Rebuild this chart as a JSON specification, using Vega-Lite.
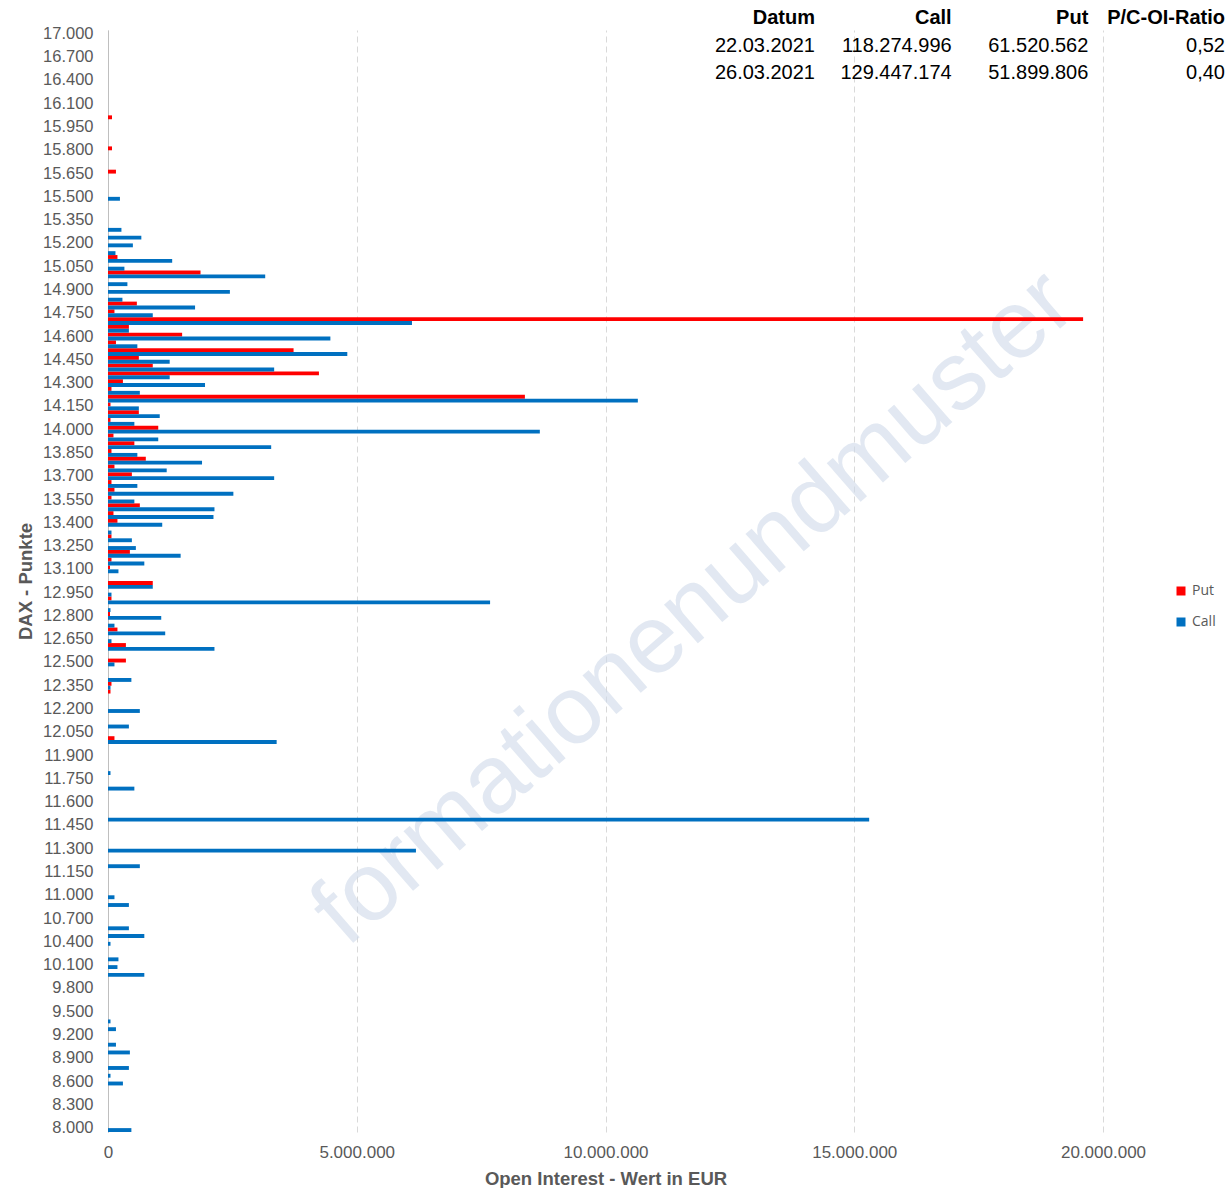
{
  "$schema": "https://vega.github.io/schema/vega-lite/v6.json",
  "width": 995,
  "height": 1102,
  "padding": {"left": 16, "top": 8, "right": 0, "bottom": 0},
  "background": "white",
  "config": {
    "font": "Liberation Sans",
    "view": {"stroke": null},
    "locale": {"number": {"decimal": ",", "thousands": ".", "grouping": [3], "currency": ["", " €"]}}
  },
  "datasets": {
    "oi": [
      {"s": 16000, "t": "Put", "v": 80000},
      {"s": 15800, "t": "Put", "v": 80000},
      {"s": 15650, "t": "Put", "v": 160000},
      {"s": 15100, "t": "Put", "v": 190000},
      {"s": 15000, "t": "Put", "v": 1860000},
      {"s": 14800, "t": "Put", "v": 580000},
      {"s": 14750, "t": "Put", "v": 130000},
      {"s": 14700, "t": "Put", "v": 19600000},
      {"s": 14650, "t": "Put", "v": 420000},
      {"s": 14600, "t": "Put", "v": 1490000},
      {"s": 14550, "t": "Put", "v": 160000},
      {"s": 14500, "t": "Put", "v": 3730000},
      {"s": 14450, "t": "Put", "v": 620000},
      {"s": 14400, "t": "Put", "v": 900000},
      {"s": 14350, "t": "Put", "v": 4240000},
      {"s": 14300, "t": "Put", "v": 300000},
      {"s": 14250, "t": "Put", "v": 70000},
      {"s": 14200, "t": "Put", "v": 8380000},
      {"s": 14150, "t": "Put", "v": 50000},
      {"s": 14100, "t": "Put", "v": 620000},
      {"s": 14050, "t": "Put", "v": 50000},
      {"s": 14000, "t": "Put", "v": 1010000},
      {"s": 13950, "t": "Put", "v": 110000},
      {"s": 13900, "t": "Put", "v": 530000},
      {"s": 13850, "t": "Put", "v": 70000},
      {"s": 13800, "t": "Put", "v": 760000},
      {"s": 13750, "t": "Put", "v": 130000},
      {"s": 13700, "t": "Put", "v": 480000},
      {"s": 13650, "t": "Put", "v": 70000},
      {"s": 13600, "t": "Put", "v": 130000},
      {"s": 13550, "t": "Put", "v": 70000},
      {"s": 13500, "t": "Put", "v": 640000},
      {"s": 13450, "t": "Put", "v": 110000},
      {"s": 13400, "t": "Put", "v": 190000},
      {"s": 13300, "t": "Put", "v": 70000},
      {"s": 13200, "t": "Put", "v": 440000},
      {"s": 13150, "t": "Put", "v": 70000},
      {"s": 13100, "t": "Put", "v": 40000},
      {"s": 13000, "t": "Put", "v": 900000},
      {"s": 12900, "t": "Put", "v": 70000},
      {"s": 12800, "t": "Put", "v": 40000},
      {"s": 12700, "t": "Put", "v": 190000},
      {"s": 12600, "t": "Put", "v": 360000},
      {"s": 12500, "t": "Put", "v": 360000},
      {"s": 12350, "t": "Put", "v": 70000},
      {"s": 12300, "t": "Put", "v": 50000},
      {"s": 12000, "t": "Put", "v": 130000},
      {"s": 15500, "t": "Call", "v": 240000},
      {"s": 15300, "t": "Call", "v": 270000},
      {"s": 15250, "t": "Call", "v": 670000},
      {"s": 15200, "t": "Call", "v": 500000},
      {"s": 15150, "t": "Call", "v": 150000},
      {"s": 15100, "t": "Call", "v": 1290000},
      {"s": 15050, "t": "Call", "v": 330000},
      {"s": 15000, "t": "Call", "v": 3160000},
      {"s": 14950, "t": "Call", "v": 390000},
      {"s": 14900, "t": "Call", "v": 2450000},
      {"s": 14850, "t": "Call", "v": 290000},
      {"s": 14800, "t": "Call", "v": 1750000},
      {"s": 14750, "t": "Call", "v": 900000},
      {"s": 14700, "t": "Call", "v": 6110000},
      {"s": 14650, "t": "Call", "v": 420000},
      {"s": 14600, "t": "Call", "v": 4470000},
      {"s": 14550, "t": "Call", "v": 590000},
      {"s": 14500, "t": "Call", "v": 4810000},
      {"s": 14450, "t": "Call", "v": 1240000},
      {"s": 14400, "t": "Call", "v": 3340000},
      {"s": 14350, "t": "Call", "v": 1240000},
      {"s": 14300, "t": "Call", "v": 1950000},
      {"s": 14250, "t": "Call", "v": 640000},
      {"s": 14200, "t": "Call", "v": 10650000},
      {"s": 14150, "t": "Call", "v": 620000},
      {"s": 14100, "t": "Call", "v": 1040000},
      {"s": 14050, "t": "Call", "v": 530000},
      {"s": 14000, "t": "Call", "v": 8680000},
      {"s": 13950, "t": "Call", "v": 1010000},
      {"s": 13900, "t": "Call", "v": 3280000},
      {"s": 13850, "t": "Call", "v": 590000},
      {"s": 13800, "t": "Call", "v": 1890000},
      {"s": 13750, "t": "Call", "v": 1180000},
      {"s": 13700, "t": "Call", "v": 3340000},
      {"s": 13650, "t": "Call", "v": 590000},
      {"s": 13600, "t": "Call", "v": 2520000},
      {"s": 13550, "t": "Call", "v": 530000},
      {"s": 13500, "t": "Call", "v": 2140000},
      {"s": 13450, "t": "Call", "v": 2120000},
      {"s": 13400, "t": "Call", "v": 1090000},
      {"s": 13350, "t": "Call", "v": 70000},
      {"s": 13300, "t": "Call", "v": 480000},
      {"s": 13250, "t": "Call", "v": 560000},
      {"s": 13200, "t": "Call", "v": 1460000},
      {"s": 13150, "t": "Call", "v": 730000},
      {"s": 13100, "t": "Call", "v": 210000},
      {"s": 13000, "t": "Call", "v": 900000},
      {"s": 12950, "t": "Call", "v": 70000},
      {"s": 12900, "t": "Call", "v": 7680000},
      {"s": 12850, "t": "Call", "v": 50000},
      {"s": 12800, "t": "Call", "v": 1070000},
      {"s": 12750, "t": "Call", "v": 130000},
      {"s": 12700, "t": "Call", "v": 1150000},
      {"s": 12650, "t": "Call", "v": 70000},
      {"s": 12600, "t": "Call", "v": 2140000},
      {"s": 12500, "t": "Call", "v": 130000},
      {"s": 12400, "t": "Call", "v": 470000},
      {"s": 12350, "t": "Call", "v": 50000},
      {"s": 12200, "t": "Call", "v": 640000},
      {"s": 12100, "t": "Call", "v": 420000},
      {"s": 12000, "t": "Call", "v": 3390000},
      {"s": 11800, "t": "Call", "v": 50000},
      {"s": 11700, "t": "Call", "v": 530000},
      {"s": 11500, "t": "Call", "v": 15300000},
      {"s": 11300, "t": "Call", "v": 6190000},
      {"s": 11200, "t": "Call", "v": 640000},
      {"s": 11000, "t": "Call", "v": 130000},
      {"s": 10900, "t": "Call", "v": 420000},
      {"s": 10600, "t": "Call", "v": 420000},
      {"s": 10500, "t": "Call", "v": 730000},
      {"s": 10400, "t": "Call", "v": 50000},
      {"s": 10200, "t": "Call", "v": 210000},
      {"s": 10100, "t": "Call", "v": 190000},
      {"s": 10000, "t": "Call", "v": 730000},
      {"s": 9400, "t": "Call", "v": 50000},
      {"s": 9300, "t": "Call", "v": 160000},
      {"s": 9100, "t": "Call", "v": 160000},
      {"s": 9000, "t": "Call", "v": 440000},
      {"s": 8800, "t": "Call", "v": 420000},
      {"s": 8700, "t": "Call", "v": 50000},
      {"s": 8600, "t": "Call", "v": 300000},
      {"s": 8000, "t": "Call", "v": 470000}
    ],
    "wm": [{"label": "formationenundmuster"}],
    "head": [
      {"col": "Datum", "row": "h", "label": "Datum"},
      {"col": "Call", "row": "h", "label": "Call"},
      {"col": "Put", "row": "h", "label": "Put"},
      {"col": "Ratio", "row": "h", "label": "P/C-OI-Ratio"}
    ],
    "body": [
      {"col": "Datum", "row": "r1", "label": "22.03.2021"},
      {"col": "Call", "row": "r1", "label": "118.274.996"},
      {"col": "Put", "row": "r1", "label": "61.520.562"},
      {"col": "Ratio", "row": "r1", "label": "0,52"},
      {"col": "Datum", "row": "r2", "label": "26.03.2021"},
      {"col": "Call", "row": "r2", "label": "129.447.174"},
      {"col": "Put", "row": "r2", "label": "51.899.806"},
      {"col": "Ratio", "row": "r2", "label": "0,40"}
    ]
  },
  "layer": [
    {
      "layer": [
        {
          "data": {"name": "wm"},
          "mark": {"type": "text", "angle": 319, "fontSize": 97, "fill": "#CFDAEA", "opacity": 0.6, "align": "center", "baseline": "middle"},
          "encoding": {
            "x": {"datum": 11780000, "type": "quantitative"},
            "y": {"datum": 12850, "type": "ordinal"},
            "text": {"field": "label"}
          }
        },
        {
          "data": {"name": "oi"},
          "mark": {"type": "bar"},
          "encoding": {
            "y": {
              "field": "s", "type": "ordinal",
              "scale": {
                "paddingInner": 0, "paddingOuter": 0,
                "domain": [17000,16900,16800,16700,16600,16500,16400,16300,16200,16100,16050,16000,15950,15900,15850,15800,15750,15700,15650,15600,15550,15500,15450,15400,15350,15300,15250,15200,15150,15100,15050,15000,14950,14900,14850,14800,14750,14700,14650,14600,14550,14500,14450,14400,14350,14300,14250,14200,14150,14100,14050,14000,13950,13900,13850,13800,13750,13700,13650,13600,13550,13500,13450,13400,13350,13300,13250,13200,13150,13100,13050,13000,12950,12900,12850,12800,12750,12700,12650,12600,12550,12500,12450,12400,12350,12300,12250,12200,12150,12100,12050,12000,11950,11900,11850,11800,11750,11700,11650,11600,11550,11500,11450,11400,11350,11300,11250,11200,11150,11100,11050,11000,10900,10800,10700,10600,10500,10400,10300,10200,10100,10000,9900,9800,9700,9600,9500,9400,9300,9200,9100,9000,8900,8800,8700,8600,8500,8400,8300,8200,8100,8000]
              },
              "axis": {
                "title": "DAX - Punkte",
                "titleFontSize": 18.5, "titleFontWeight": "bold", "titleColor": "#595959", "titlePadding": 7,
                "labelFontSize": 16.5, "labelColor": "#595959", "labelPadding": 15,
                "ticks": false, "domain": true, "domainColor": "#BFBFBF", "domainWidth": 1,
                "labelExpr": "replace(replace(format(datum.value, ','), ',', '.'), ',', '.')",
                "values": [17000,16700,16400,16100,15950,15800,15650,15500,15350,15200,15050,14900,14750,14600,14450,14300,14150,14000,13850,13700,13550,13400,13250,13100,12950,12800,12650,12500,12350,12200,12050,11900,11750,11600,11450,11300,11150,11000,10700,10400,10100,9800,9500,9200,8900,8600,8300,8000]
              }
            },
            "yOffset": {"field": "t", "type": "nominal", "scale": {"domain": ["Put", "Call"], "paddingInner": 0, "paddingOuter": 0}},
            "x": {
              "field": "v", "type": "quantitative",
              "scale": {"domain": [0, 20000000], "nice": false},
              "axis": {
                "title": "Open Interest - Wert in EUR",
                "titleFontSize": 18.5, "titleFontWeight": "bold", "titleColor": "#595959", "titlePadding": 9,
                "labelFontSize": 17, "labelColor": "#595959", "labelPadding": 12, "labelFlush": false, "labelOverlap": false,
                "values": [0, 5000000, 10000000, 15000000, 20000000],
                "labelExpr": "replace(replace(format(datum.value, ','), ',', '.'), ',', '.')",
                "grid": true, "gridDash": [6, 4], "gridColor": "#D9D9D9", "gridWidth": 1,
                "ticks": false, "domain": false
              }
            },
            "color": {
              "field": "t", "type": "nominal",
              "scale": {"domain": ["Put", "Call"], "range": ["#FF0000", "#0070C0"]},
              "legend": {
                "title": null, "orient": "none", "legendX": 1066, "legendY": 554,
                "symbolType": "square", "symbolSize": 81, "symbolStrokeWidth": 0,
                "labelFontSize": 14, "labelColor": "#595959", "rowPadding": 17, "padding": 0,
                "labelFont": "Open Sans"
              }
            }
          }
        }
      ]
    },
    {
      "layer": [
        {
          "data": {"name": "head"},
          "mark": {"type": "text", "align": "right", "baseline": "middle", "fontSize": 20, "fontWeight": "bold", "fill": "#000000"},
          "encoding": {
            "x": {"field": "col", "type": "ordinal", "scale": {"type": "point", "domain": ["Datum", "Call", "Put", "Ratio"], "range": [707, 1117], "padding": 0}, "axis": null},
            "y": {"field": "row", "type": "ordinal", "scale": {"type": "point", "domain": ["h", "r1", "r2"], "range": [-12, 43], "padding": 0}, "axis": null},
            "text": {"field": "label"}
          }
        },
        {
          "data": {"name": "body"},
          "mark": {"type": "text", "align": "right", "baseline": "middle", "fontSize": 20, "fill": "#000000"},
          "encoding": {
            "x": {"field": "col", "type": "ordinal", "scale": {"type": "point", "domain": ["Datum", "Call", "Put", "Ratio"], "range": [707, 1117], "padding": 0}, "axis": null},
            "y": {"field": "row", "type": "ordinal", "scale": {"type": "point", "domain": ["h", "r1", "r2"], "range": [-12, 43], "padding": 0}, "axis": null},
            "text": {"field": "label"}
          }
        }
      ]
    }
  ],
  "resolve": {"scale": {"x": "independent", "y": "independent"}}
}
